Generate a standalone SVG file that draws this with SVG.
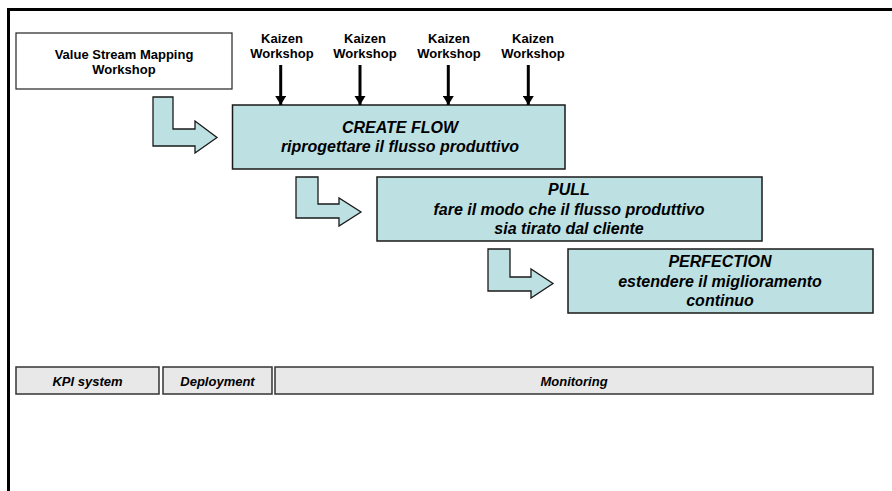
<svg xmlns="http://www.w3.org/2000/svg" width="892" height="491" viewBox="0 0 892 491">
  <style>
    .lbl { font-family: "Liberation Sans", Arial, sans-serif; font-weight: bold; fill: #000; text-anchor: middle; }
    .small { font-size: 13px; }
    .big { font-size: 16px; font-style: italic; }
    .bar-t { font-size: 13px; font-style: italic; }
    .phase { fill: #bde0e3; stroke: #1a1a1a; stroke-width: 1.5; }
    .bent { fill: #bde0e3; stroke: #1a1a1a; stroke-width: 1.3; stroke-linejoin: miter; }
    .bar { fill: #e8e8e8; stroke: #333; stroke-width: 1.5; }
    .drop { stroke: #000; stroke-width: 3; fill: none; }
  </style>
  <defs>
    <marker id="head" viewBox="0 0 9 11" refX="9" refY="5.5" markerWidth="3" markerHeight="3.67" orient="auto" markerUnits="strokeWidth">
      <path d="M0,0 L9,5.5 L0,11 Z" fill="#000"/>
    </marker>
  </defs>

  <rect width="892" height="491" fill="#fff"/>

  <!-- outer frame, open past the right and bottom edges -->
  <rect x="8.5" y="9.5" width="900" height="500" fill="none" stroke="#000" stroke-width="3"/>

  <g id="vsm-workshop">
    <rect x="16" y="33" width="216" height="56" fill="#fff" stroke="#222" stroke-width="1.2"/>
    <text class="lbl small" x="124" y="59">Value Stream Mapping</text>
    <text class="lbl small" x="124" y="74">Workshop</text>
  </g>

  <g id="kaizen-1">
    <text class="lbl small" x="282" y="43">Kaizen</text>
    <text class="lbl small" x="282" y="58">Workshop</text>
  </g>
  <g id="kaizen-2">
    <text class="lbl small" x="365" y="43">Kaizen</text>
    <text class="lbl small" x="365" y="58">Workshop</text>
  </g>
  <g id="kaizen-3">
    <text class="lbl small" x="449" y="43">Kaizen</text>
    <text class="lbl small" x="449" y="58">Workshop</text>
  </g>
  <g id="kaizen-4">
    <text class="lbl small" x="533" y="43">Kaizen</text>
    <text class="lbl small" x="533" y="58">Workshop</text>
  </g>

  <g id="create-flow">
    <rect class="phase" x="232.5" y="105" width="332.5" height="64"/>
    <text class="lbl big" x="400" y="133">CREATE FLOW</text>
    <text class="lbl big" x="400" y="152">riprogettare il flusso produttivo</text>
  </g>

  <g id="pull">
    <rect class="phase" x="377" y="177" width="385" height="64"/>
    <text class="lbl big" x="569" y="195">PULL</text>
    <text class="lbl big" x="569" y="215">fare il modo che il flusso produttivo</text>
    <text class="lbl big" x="569" y="234">sia tirato dal cliente</text>
  </g>

  <g id="perfection">
    <rect class="phase" x="568" y="249" width="305" height="64"/>
    <text class="lbl big" x="720" y="267">PERFECTION</text>
    <text class="lbl big" x="720" y="287">estendere il miglioramento</text>
    <text class="lbl big" x="720" y="306">continuo</text>
  </g>

  <g id="kpi-system">
    <rect class="bar" x="16" y="367" width="143" height="27"/>
    <text class="lbl bar-t" x="87.5" y="385.5">KPI system</text>
  </g>
  <g id="deployment">
    <rect class="bar" x="163" y="367" width="109" height="27"/>
    <text class="lbl bar-t" x="217.5" y="385.5">Deployment</text>
  </g>
  <g id="monitoring">
    <rect class="bar" x="275" y="367" width="598" height="27"/>
    <text class="lbl bar-t" x="574" y="385.5">Monitoring</text>
  </g>

  <g id="connectors">
    <!-- workshop drops into CREATE FLOW -->
    <line class="drop" x1="280.7" y1="65" x2="280.7" y2="105" marker-end="url(#head)"/>
    <line class="drop" x1="360" y1="65" x2="360" y2="105" marker-end="url(#head)"/>
    <line class="drop" x1="448.3" y1="65" x2="448.3" y2="105" marker-end="url(#head)"/>
    <line class="drop" x1="528.3" y1="65" x2="528.3" y2="105" marker-end="url(#head)"/>

    <!-- bent block arrows between phases -->
    <path class="bent" d="M153,97 H173 V129 H195 V121 L217,137.5 L195,153 V146 H153 Z"/>
    <path class="bent" d="M296,177 H318 V204 H339 V198 L361,212 L339,226 V218 H296 Z"/>
    <path class="bent" d="M488,249 H510 V277 H531 V269 L553,283.5 L531,298 V291 H488 Z"/>
  </g>
</svg>
